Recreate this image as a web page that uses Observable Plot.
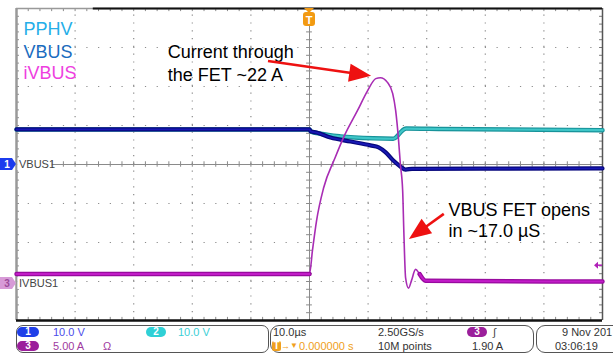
<!DOCTYPE html>
<html>
<head>
<meta charset="utf-8">
<script src="https://cdn.jsdelivr.net/npm/d3@7"></script>
<script src="https://cdn.jsdelivr.net/npm/@observablehq/plot@0.6"></script>
<style>
  html, body { margin: 0; padding: 0; background: #fff; }
  #scope { position: relative; width: 613px; height: 354px; overflow: hidden;
           font-family: "Liberation Sans", Arial, sans-serif; }
  #scope svg { display: block; }
  #bar { position: relative; width: 613px; height: 32px; font-size: 11px; color: #333; }
  .box { position: absolute; top: 3px; height: 28px; border: 1px solid #555;
         border-radius: 7px; box-sizing: border-box; }
  .t { position: absolute; white-space: nowrap; line-height: 12px; }
  .pill { position: absolute; height: 10px; border-radius: 5px; color: #fff; font-weight: bold;
          text-align: center; line-height: 10px; font-size: 10px; }
</style>
</head>
<body>
<div id="scope"></div>
<script>
// Acquisition: 10 µs/div, trigger at t = 0 (screen centre)
const channelNames = ["PPHV", "VBUS", "iVBUS"];

// Ch2 — PPHV (V)
const pphvT = [-50, 0, 0.2, 1.9, 5.3, 10.9, 14.3, 15.0, 15.7, 16.5, 22.4, 50];
const pphvV = [9.0, 9.0, 8.5, 7.9, 7.2, 6.7, 6.6, 7.3, 8.5, 9.2, 9.1, 8.8];

// Ch1 — VBUS (V)
const vbusT = [-50, 0, 0.2, 1.2, 3.6, 7.0, 10.4, 11.8, 13.0, 14.3, 15.5, 16.4, 17.5, 50];
const vbusV = [9.0, 9.0, 8.5, 8.2, 6.9, 5.9, 4.9, 4.4, 3.1, 1.0, -0.5, -1.3, -1.1, -1.0];

// Ch3 — iVBUS (A), peak current ~22 A
const ivbusT = [-50, 0, 0.5, 1.2, 2.4, 4.4, 5.8, 8.2, 9.9, 11.3, 12.1, 13.3, 14.2, 14.7, 15.2, 15.5,
                15.9, 16.1, 16.4, 16.9, 17.4, 18.1, 18.8, 19.8, 50];
const ivbusA = [1.0, 1.0, 3.5, 6.7, 10.2, 13.5, 15.6, 18.5, 20.6, 21.9, 22.0, 21.5, 20.3, 18.5, 15.3, 12.8,
                9.9, 5.5, 0.6, -0.5, 0.3, 1.5, 1.0, 0.3, 0.2];

const triggerLevel = 1.90; // A, on ch3

// Status bar texts
const chScales = ["10.0 V", "10.0 V", "5.00 A"];
const timebase = "10.0µs";
const sampleRate = "2.50GS/s";
const trigDelay = "0.000000 s";
const memDepth = "10M points";
const trigLevelText = "1.90 A";
const stamp = ["9 Nov 201", "03:06:19"];

// ---- vertical placement of each channel (in divisions) ----
const voltsPerDiv = 10;
const ampsPerDiv = 4.17;
const ch3Zero = -3.05;
const div1 = v => v / voltsPerDiv;
const div3 = a => a / ampsPerDiv + ch3Zero;

const rows = (ts, vs) => ts.map((t, i) => ({t, v: vs[i]}));
const pphv = rows(pphvT, pphvV);
const vbus = rows(vbusT, vbusV);
const ivbus = rows(ivbusT, ivbusA);

const majorX = d3.range(-40, 41, 10).filter(d => d !== 0);
const majorY = d3.range(-3, 4, 1).filter(d => d !== 0);
const minorX = d3.range(-50, 50.01, 2);
const minorY = d3.range(-4, 4.001, 0.2);

const grid = "#8c8c8c";
const legendColors = ["#25aee8", "#1a6cc0", "#ee3ee0"];
const legendY = [3.48, 2.89, 2.33];

const plot = Plot.plot({
  width: 613, height: 322,
  marginLeft: 16, marginRight: 11, marginTop: 8, marginBottom: 2,
  x: {domain: [-50, 50], axis: null},
  y: {domain: [-4, 4], axis: null},
  style: {background: "#fff", fontFamily: "'Liberation Sans', Arial, sans-serif", overflow: "visible"},
  marks: [
    // graticule
    Plot.ruleX(majorX, {y1: -4, y2: 4, stroke: grid, strokeWidth: 1.2, strokeDasharray: "1.2,6.6"}),
    Plot.ruleY(majorY, {x1: -50, x2: 50, stroke: grid, strokeWidth: 1.2, strokeDasharray: "1.2,10.52"}),
    Plot.ruleY([0], {x1: -50, x2: 50, stroke: "#8a8a8a", strokeWidth: 1}),
    Plot.ruleX([0], {y1: -4, y2: 4, stroke: "#8a8a8a", strokeWidth: 1}),
    Plot.ruleX(minorX, {y1: -0.07, y2: 0.07, stroke: "#8a8a8a"}),
    Plot.ruleY(minorY, {x1: -0.5, x2: 0.5, stroke: "#8a8a8a"}),
    Plot.ruleX(minorX, {y1: 4, y2: 3.92, stroke: "#8a8a8a"}),
    Plot.ruleX(minorX, {y1: -4, y2: -3.92, stroke: "#8a8a8a"}),
    Plot.ruleY(minorY, {x1: -50, x2: -49.5, stroke: "#8a8a8a"}),
    Plot.ruleY(minorY, {x1: 50, x2: 49.5, stroke: "#777"}),
    // frame
    Plot.ruleX([-50], {stroke: "#999", strokeWidth: 2.5}),
    Plot.ruleX([50], {stroke: "#555", strokeWidth: 1.5}),
    Plot.ruleY([4], {x1: -50, x2: 50, stroke: "#999", strokeWidth: 1.5}),
    Plot.ruleY([4], {x1: -36.9, x2: 50, stroke: "#111", strokeWidth: 2}),
    Plot.ruleY([-4], {x1: -50, x2: 50, stroke: "#111", strokeWidth: 2.5}),

    // Ch2 PPHV
    Plot.line(pphv, {x: "t", y: d => div1(d.v), stroke: "#17939a", strokeWidth: 4.5, curve: "monotone-x"}),
    Plot.line(pphv, {x: "t", y: d => div1(d.v), stroke: "#3fc6c8", strokeWidth: 2.2, curve: "monotone-x"}),
    // Ch1 VBUS
    Plot.line(vbus, {x: "t", y: d => div1(d.v), stroke: "#07077c", strokeWidth: 4.2, curve: "monotone-x"}),
    Plot.line(vbus, {x: "t", y: d => div1(d.v), stroke: "#1818b4", strokeWidth: 1.8, curve: "monotone-x"}),
    // Ch3 iVBUS
    Plot.line(ivbus, {x: "t", y: d => div3(d.v), stroke: "#a82cb4", strokeWidth: 1.6, curve: "monotone-x"}),
    Plot.line(ivbus.filter(d => d.t <= 0), {x: "t", y: d => div3(d.v), stroke: "#980a9e", strokeWidth: 4.5}),
    Plot.line(ivbus.filter(d => d.t <= 0), {x: "t", y: d => div3(d.v), stroke: "#c21cc8", strokeWidth: 2}),
    Plot.line(ivbus.filter(d => d.t >= 18.8), {x: "t", y: d => div3(d.v), stroke: "#980a9e", strokeWidth: 4.5, curve: "monotone-x"}),
    Plot.line(ivbus.filter(d => d.t >= 18.8), {x: "t", y: d => div3(d.v), stroke: "#c21cc8", strokeWidth: 2, curve: "monotone-x"}),

    // channel legend
    ...channelNames.map((name, i) => Plot.text([name], {
      x: -48.8, y: legendY[i], text: d => d, textAnchor: "start", lineAnchor: "middle",
      fontSize: 18, fill: legendColors[i]
    })),

    // annotations
    Plot.text(["Current through"], {x: -24.2, y: 2.89, text: d => d, textAnchor: "start", fontSize: 18, fill: "#000"}),
    Plot.text(["the FET ~22 A"], {x: -24.2, y: 2.30, text: d => d, textAnchor: "start", fontSize: 18, fill: "#000"}),
    Plot.text(["VBUS FET opens"], {x: 23.7, y: -1.16, text: d => d, textAnchor: "start", fontSize: 18, fill: "#000"}),
    Plot.text(["in ~17.0 µS"], {x: 23.7, y: -1.72, text: d => d, textAnchor: "start", fontSize: 18, fill: "#000"})
  ]
});

document.getElementById("scope").appendChild(plot);

// ---- overlays positioned through the plot's scales ----
const svg = d3.select(plot);
const X = plot.scale("x").apply, Y = plot.scale("y").apply;
const red = "#ee1111";

function arrow(t1, d1, t2, d2) {
  const x1 = X(t1), y1 = Y(d1), x2 = X(t2), y2 = Y(d2);
  const a = Math.atan2(y2 - y1, x2 - x1), L = 22, W = 9;
  const bx = x2 - L * Math.cos(a), by = y2 - L * Math.sin(a);
  svg.append("line").attr("x1", x1).attr("y1", y1).attr("x2", bx + 2 * Math.cos(a)).attr("y2", by + 2 * Math.sin(a))
    .attr("stroke", red).attr("stroke-width", 2.6);
  svg.append("path")
    .attr("d", `M${x2},${y2}L${bx + W * Math.sin(a)},${by - W * Math.cos(a)}L${bx - W * Math.sin(a)},${by + W * Math.cos(a)}Z`)
    .attr("fill", red);
}
arrow(-7.0, 2.64, 10.6, 2.26);
arrow(23.0, -1.28, 17.06, -1.92);

// trigger position marker
{
  const x = X(0), top = Y(4);
  svg.append("path").attr("d", `M${x - 5},${top}L${x + 5},${top}L${x},${top + 5}Z`).attr("fill", "#f29a12");
  svg.append("rect").attr("x", x - 6).attr("y", top + 4).attr("width", 12).attr("height", 14).attr("rx", 3)
    .attr("fill", "#f29a12");
  svg.append("text").attr("x", x).attr("y", top + 15.5).attr("text-anchor", "middle")
    .attr("font-size", 11).attr("font-weight", "bold").attr("fill", "#fff").text("T");
}

// channel ground markers
function groundMarker(div, num, fill, numColor, label) {
  const y = Y(div);
  svg.append("path").attr("d", `M0,${y - 6}L12,${y - 6}L16,${y}L12,${y + 6}L0,${y + 6}Z`).attr("fill", fill);
  svg.append("text").attr("x", 7).attr("y", y + 4).attr("text-anchor", "middle").attr("font-size", 10)
    .attr("font-weight", "bold").attr("fill", numColor).text(num);
  svg.append("rect").attr("x", 17.5).attr("y", y - 6).attr("width", 34).attr("height", 12).attr("fill", "#fff");
  svg.append("text").attr("x", 19).attr("y", y + 4).attr("text-anchor", "start")
    .attr("font-size", 11).attr("fill", "#444").text(label);
}
groundMarker(div1(0), "1", "#1c3cee", "#fff", "VBUS1");
groundMarker(div3(0), "3", "#d79ad7", "#9a4a9a", "IVBUS1");

// trigger level marker (ch3)
{
  const y = Y(div3(triggerLevel)), xr = X(50);
  svg.append("path").attr("d", `M${xr - 8},${y}L${xr - 4},${y - 3.5}L${xr - 4},${y + 3.5}Z`).attr("fill", "#b020b8");
  svg.append("line").attr("x1", xr - 4).attr("x2", xr).attr("y1", y).attr("y2", y)
    .attr("stroke", "#b020b8").attr("stroke-width", 1.5);
}

// ---- status bar ----
const bar = document.createElement("div");
bar.id = "bar";
const add = (cls, left, top, text, style = "") => {
  const el = document.createElement("div");
  el.className = cls;
  el.style.cssText = `left:${left}px;top:${top}px;${style}`;
  el.textContent = text;
  bar.appendChild(el);
};
add("box", 16, 3, "", "width:253px;");
add("box", 270, 3, "", "width:264px;border-radius:9px;");
add("box", 536, 3, "", "width:100px;border-radius:9px;");

add("pill", 17, 5, "1", "width:22px;background:#1f3fe8;");
add("t", 53, 4, chScales[0], "color:#4b4bea;");
add("pill", 146, 5, "2", "width:20px;background:#2fd0d6;");
add("t", 178, 4, chScales[1], "color:#3ccfd6;");
add("pill", 17, 19, "3", "width:22px;background:#9b1f9b;");
add("t", 53, 18, chScales[2], "color:#a03aa0;");
add("t", 103, 18, "Ω", "color:#a03aa0;");

add("t", 273, 4, timebase);
add("t", 378, 4, sampleRate);
add("pill", 467, 5, "3", "width:20px;background:#9b1f9b;");
add("t", 493, 4, "∫", "color:#444;");
add("pill", 272, 19, "T", "width:9px;border-radius:2px;background:#f0a020;");
add("t", 281, 18, "→", "color:#f0a020;font-size:9px;");
add("t", 290, 18, "▼", "color:#f0a020;font-size:8px;");
add("t", 299, 18, trigDelay, "color:#f0a020;");
add("t", 378, 18, memDepth);
add("t", 472, 18, trigLevelText);

add("t", 562, 4, stamp[0]);
add("t", 555, 18, stamp[1]);

document.getElementById("scope").appendChild(bar);
</script>
</body>
</html>
